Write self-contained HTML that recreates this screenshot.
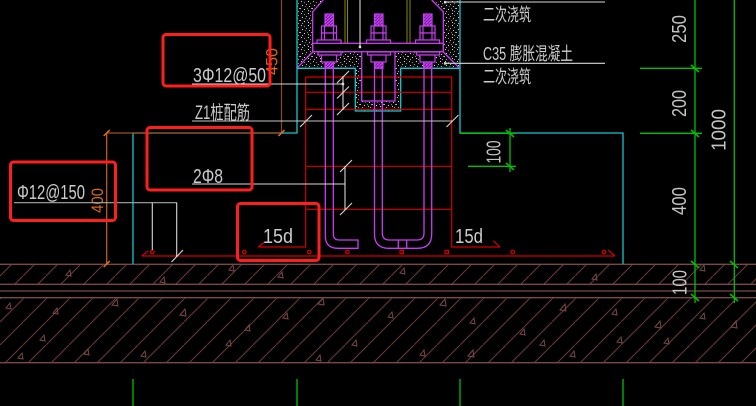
<!DOCTYPE html>
<html><head><meta charset="utf-8">
<style>
html,body{margin:0;padding:0;background:#000;}
svg{display:block;}
text{font-family:"Liberation Sans","Noto Sans CJK SC",sans-serif;fill:#cccccc;}
</style></head><body>
<svg width="756" height="406" viewBox="0 0 756 406" xmlns="http://www.w3.org/2000/svg">
<defs>
<pattern id="hatch" patternUnits="userSpaceOnUse" width="23" height="23">
<line x1="-1" y1="24" x2="24" y2="-1" stroke="#6e3a3a" stroke-width="1"/>
</pattern>
<pattern id="mh" patternUnits="userSpaceOnUse" width="3" height="3">
<rect width="3" height="3" fill="#7a1aa0"/>
<line x1="0" y1="3" x2="3" y2="0" stroke="#d050ff" stroke-width="1"/>
</pattern>
<pattern id="spk" patternUnits="userSpaceOnUse" width="12" height="12">
<rect width="12" height="12" fill="#0a0a0a"/>
<rect x="1" y="1" width="1" height="1" fill="#c8c8c8"/>
<rect x="4" y="2" width="1" height="1" fill="#8a8a8a"/>
<rect x="8" y="1" width="1" height="1" fill="#d8d8d8"/>
<rect x="10" y="3" width="1" height="1" fill="#888"/>
<rect x="2" y="5" width="1" height="1" fill="#d0d0d0"/>
<rect x="6" y="4" width="1" height="1" fill="#aaa"/>
<rect x="9" y="6" width="1" height="1" fill="#c0c0c0"/>
<rect x="11" y="8" width="1" height="1" fill="#999"/>
<rect x="0" y="8" width="1" height="1" fill="#bbb"/>
<rect x="4" y="9" width="1" height="1" fill="#e0e0e0"/>
<rect x="7" y="8" width="1" height="1" fill="#777"/>
<rect x="2" y="11" width="1" height="1" fill="#aaa"/>
<rect x="8" y="10" width="1" height="1" fill="#ccc"/>
<rect x="5" y="6" width="1" height="1" fill="#666"/>
<rect x="10" y="11" width="1" height="1" fill="#9a9a9a"/>
</pattern>
</defs>
<rect width="756" height="406" fill="#000"/>

<!-- ground hatch band -->
<rect x="0" y="264" width="756" height="20" fill="url(#hatch)"/>
<rect x="0" y="298" width="756" height="65" fill="url(#hatch)"/>
<g stroke="#7a4848" stroke-width="1.3">
<line x1="0" y1="264.3" x2="756" y2="264.3"/>
<line x1="0" y1="284.3" x2="756" y2="284.3"/>
<line x1="0" y1="291" x2="756" y2="291"/>
<line x1="0" y1="297.7" x2="756" y2="297.7"/>
<line x1="0" y1="362.7" x2="756" y2="362.7"/>
</g>
<g fill="none" stroke="#7a4848" stroke-width="1">
<path d="M66,275 l4,-5 l1,6 z"/><path d="M160,282 l4,-5 l1,6 z"/><path d="M229,270 l4,-5 l1,6 z"/>
<path d="M278,277 l4,-5 l1,6 z"/><path d="M400,273 l4,-5 l1,6 z"/><path d="M592,279 l4,-5 l1,6 z"/>
<path d="M700,270 l4,-5 l1,6 z"/><path d="M6,308 l4,-5 l1,6 z"/><path d="M53,313 l4,-5 l1,6 z"/>
<path d="M112,305 l5,-6 l1,7 z"/><path d="M180,315 l5,-6 l1,7 z"/><path d="M245,330 l4,-5 l1,6 z"/>
<path d="M283,318 l4,-5 l1,6 z"/><path d="M318,304 l5,-6 l1,7 z"/><path d="M388,317 l4,-5 l1,6 z"/>
<path d="M440,305 l5,-6 l1,7 z"/><path d="M470,323 l4,-5 l1,6 z"/><path d="M520,334 l4,-5 l1,6 z"/>
<path d="M560,310 l5,-6 l1,7 z"/><path d="M612,314 l4,-5 l1,6 z"/><path d="M655,327 l5,-6 l1,7 z"/>
<path d="M700,318 l4,-5 l1,6 z"/><path d="M731,327 l5,-6 l1,7 z"/><path d="M18,358 l4,-5 l1,6 z"/>
<path d="M84,354 l4,-5 l1,6 z"/><path d="M141,356 l4,-5 l1,6 z"/><path d="M226,345 l4,-5 l1,6 z"/>
<path d="M316,360 l4,-5 l1,6 z"/><path d="M420,355 l4,-5 l1,6 z"/><path d="M468,356 l5,-6 l1,7 z"/>
<path d="M570,356 l4,-5 l1,6 z"/><path d="M617,342 l4,-5 l1,6 z"/><path d="M664,343 l4,-5 l1,6 z"/>
<path d="M40,340 l4,-5 l1,6 z"/><path d="M352,345 l4,-5 l1,6 z"/><path d="M540,345 l4,-5 l1,6 z"/>
</g>

<!-- speckled concrete -->
<rect x="297" y="0" width="163" height="68.3" fill="url(#spk)"/>
<rect x="355.3" y="68" width="45.4" height="43" fill="url(#spk)"/>
<polygon points="312.3,0 443.3,0 443.3,52 312.3,52" fill="url(#spk)"/>
<polygon points="323.3,0 431.7,0 443.3,11.7 443.3,52 312.7,52 312.7,11.7" fill="#000"/>
<rect x="361.7" y="52" width="33.3" height="49" fill="#000"/>

<!-- cyan outline -->
<g stroke="#19c6d0" stroke-width="1.3" fill="none">
<path d="M297,0 V133 H133 V264"/>
<path d="M460,0 V133 H623 V264"/>
<path d="M297,68.3 H355.3 V111 H400.7 V68.3 H460"/>
</g>

<!-- orange/brown dims -->
<g stroke-width="1.2" fill="none">
<line x1="106.7" y1="133" x2="106.7" y2="264" stroke="#c8641e"/>
<line x1="106.7" y1="133" x2="282" y2="133" stroke="#a0501e"/>
<line x1="281.5" y1="0" x2="281.5" y2="133" stroke="#8c4a1e"/>
<g stroke="#e07020" stroke-width="1.5">
<line x1="103.7" y1="136" x2="109.7" y2="130"/>
<line x1="103.7" y1="267" x2="109.7" y2="261"/>
<line x1="278.5" y1="136" x2="284.5" y2="130"/>
</g>
</g>
<text transform="translate(97,200.5) rotate(-90)" y="6" text-anchor="middle" font-size="17" textLength="25" lengthAdjust="spacingAndGlyphs" style="fill:#d2691e">400</text>
<text transform="translate(271.5,61.5) rotate(-90)" y="6" text-anchor="middle" font-size="17" textLength="27" lengthAdjust="spacingAndGlyphs" style="fill:#d2691e">450</text>

<!-- red rebar lines -->
<g stroke="#d40000" stroke-width="1.2" fill="none">
<path d="M305.7,77 H451.7 V247 H500"/>
<path d="M305.7,77 V247 H258.3"/>
<line x1="305.7" y1="92.3" x2="451.7" y2="92.3"/>
<line x1="305.7" y1="109.3" x2="451.7" y2="109.3"/>
<line x1="305.7" y1="166.3" x2="451.7" y2="166.3"/>
<line x1="305.7" y1="209.3" x2="451.7" y2="209.3"/>
<line x1="258.3" y1="247" x2="265" y2="241.7"/>
<line x1="493.3" y1="240.7" x2="500" y2="247"/>
<line x1="141.7" y1="256" x2="615" y2="256"/>
<line x1="141.7" y1="256" x2="148.3" y2="251"/>
<line x1="608.3" y1="250" x2="615" y2="256"/>
<circle cx="152.3" cy="252" r="1.8"/><circle cx="244.3" cy="252" r="1.8"/>
<circle cx="309.3" cy="252" r="1.8"/><circle cx="347.3" cy="252" r="1.8"/>
<rect x="400" y="250.3" width="3.4" height="3.4"/><rect x="445" y="250.3" width="3.4" height="3.4"/>
<circle cx="512.7" cy="252" r="1.8"/><circle cx="604" cy="252" r="1.8"/>
</g>

<!-- olive lines -->
<g stroke="#8a8a00" stroke-width="1">
<line x1="345" y1="0" x2="345" y2="43"/><line x1="347.5" y1="0" x2="347.5" y2="43"/>
<line x1="407" y1="0" x2="407" y2="43"/><line x1="410" y1="0" x2="410" y2="43"/>
</g>

<!-- magenta steel -->
<g stroke="#c83cf0" stroke-width="1.3" fill="none">
<path d="M323.3,0 L312.7,11.7 V52 L297.3,67.7"/>
<path d="M431.7,0 L443.3,11.7 V52 L459,67.7"/>
<rect x="312.7" y="43.3" width="130.6" height="8.4"/>
<path d="M361.7,52 V101 H395 V52"/>
<!-- left J bar -->
<path d="M325.3,68 V236 Q325.3,248.3 337.8,248.3 H358 V240 H339.3 Q333.3,240 333.3,234 V68"/>
<!-- right U bar -->
<path d="M374.5,68 V234 Q374.5,248.3 389,248.3 H417.4 Q431.7,248.3 431.7,234 V68"/>
<path d="M382.3,68 V233 Q382.3,240 389.3,240 H417 Q424,240 424,233 V68"/>
<line x1="398.3" y1="240" x2="398.3" y2="248.3"/>
<line x1="406.7" y1="240" x2="406.7" y2="248.3"/>
</g>
<g stroke="#c83cf0" stroke-width="1.2">
<g id="b1">
<rect x="325" y="14" width="8.5" height="12" fill="url(#mh)"/>
<rect x="321.5" y="26" width="15" height="7" fill="#000"/>
<rect x="321.5" y="33" width="15" height="7" fill="#000"/>
<line x1="324.5" y1="26" x2="324.5" y2="40"/>
<line x1="333.5" y1="26" x2="333.5" y2="40"/>
<rect x="317" y="40" width="24" height="3.3" fill="#000"/>
<rect x="318" y="52" width="23" height="3" fill="#000"/>
<rect x="321.5" y="55" width="15" height="7" fill="#000"/>
<rect x="325" y="62" width="8.5" height="6.3" fill="url(#mh)"/>
</g>
<use href="#b1" transform="translate(49.5,0)"/>
<use href="#b1" transform="translate(98.5,0)"/>
</g>

<!-- white leaders -->
<g stroke="#d8d8d8" stroke-width="1.1" fill="none">
<line x1="360" y1="0" x2="360" y2="47"/>
<line x1="445" y1="2" x2="605" y2="2"/>
<line x1="445" y1="63.3" x2="605" y2="63.3"/>
<line x1="192" y1="84" x2="343" y2="84"/>
<line x1="343" y1="76" x2="343" y2="110"/>
<line x1="337" y1="83" x2="349" y2="71"/>
<line x1="337" y1="98.5" x2="349" y2="86.5"/>
<line x1="337" y1="115" x2="349" y2="103"/>
<line x1="192" y1="121" x2="452" y2="121" stroke="#c4c4c4"/>
<line x1="300" y1="127" x2="312" y2="115"/>
<line x1="446.5" y1="127" x2="458.5" y2="115"/>
<line x1="192" y1="184" x2="345" y2="184"/>
<line x1="345" y1="166" x2="345" y2="210"/>
<line x1="340" y1="172" x2="352" y2="160"/>
<line x1="340" y1="215" x2="352" y2="203"/>
<line x1="14" y1="202.7" x2="177" y2="202.7" stroke="#a8a8a8"/>
<line x1="152.3" y1="202.7" x2="152.3" y2="250"/>
<line x1="176.7" y1="202.7" x2="176.7" y2="257"/>
<line x1="171.5" y1="262" x2="183" y2="250"/>
</g>
<g fill="#e0e0e0">
<rect x="358.8" y="45.8" width="2.4" height="2.4"/>
<rect x="444" y="1" width="2.4" height="2.4"/>
<rect x="444" y="62.2" width="2.4" height="2.4"/>
<rect x="341.8" y="82.8" width="2.4" height="2.4"/>
</g>

<!-- labels -->
<text x="193" y="82" font-size="20" textLength="73" lengthAdjust="spacingAndGlyphs">3Φ12@50</text>
<text x="195" y="119" font-size="19" textLength="55" lengthAdjust="spacingAndGlyphs">Z1桩配筋</text>
<text x="193" y="183" font-size="20" textLength="30" lengthAdjust="spacingAndGlyphs">2Φ8</text>
<text x="17" y="199" font-size="20" textLength="68" lengthAdjust="spacingAndGlyphs">Φ12@150</text>
<text x="263" y="243" font-size="20" textLength="30" lengthAdjust="spacingAndGlyphs">15d</text>
<text x="455" y="243" font-size="20" textLength="28" lengthAdjust="spacingAndGlyphs">15d</text>
<text x="483" y="21" font-size="18" textLength="48" lengthAdjust="spacingAndGlyphs">二次浇筑</text>
<text x="483" y="60" font-size="18" textLength="90" lengthAdjust="spacingAndGlyphs">C35 膨胀混凝土</text>
<text x="483" y="83" font-size="18" textLength="48" lengthAdjust="spacingAndGlyphs">二次浇筑</text>

<!-- green dims -->
<g stroke="#00c000" stroke-width="1.3" fill="none">
<line x1="695" y1="0" x2="695" y2="303"/>
<line x1="734.3" y1="0" x2="734.3" y2="303"/>
<line x1="640" y1="68.3" x2="702" y2="68.3"/>
<line x1="640" y1="133.3" x2="702" y2="133.3"/>
<line x1="460" y1="133.3" x2="516" y2="133.3"/>
<line x1="468" y1="166.3" x2="516" y2="166.3"/>
<line x1="510" y1="128" x2="510" y2="172"/>
<line x1="133" y1="379" x2="133" y2="406"/>
<line x1="297" y1="379" x2="297" y2="406"/>
<line x1="460" y1="379" x2="460" y2="406"/>
<line x1="623" y1="379" x2="623" y2="406"/>
<g stroke-width="1.5">
<line x1="691" y1="65" x2="699" y2="72"/>
<line x1="691" y1="130" x2="699" y2="137"/>
<line x1="691" y1="261" x2="699" y2="268"/>
<line x1="691" y1="294" x2="699" y2="301"/>
<line x1="730" y1="261" x2="738" y2="268"/>
<line x1="730" y1="294" x2="738" y2="301"/>
<line x1="506" y1="130" x2="514" y2="137"/>
<line x1="506" y1="163" x2="514" y2="170"/>
</g>
</g>
<g font-size="20">
<text transform="translate(679,29) rotate(-90)" y="7" text-anchor="middle" textLength="28" lengthAdjust="spacingAndGlyphs" style="fill:#c4c4c4">250</text>
<text transform="translate(679,103.5) rotate(-90)" y="7" text-anchor="middle" textLength="27" lengthAdjust="spacingAndGlyphs" style="fill:#c4c4c4">200</text>
<text transform="translate(679,201) rotate(-90)" y="7" text-anchor="middle" textLength="28" lengthAdjust="spacingAndGlyphs" style="fill:#c4c4c4">400</text>
<text transform="translate(679.5,282.5) rotate(-90)" y="7" text-anchor="middle" textLength="25" lengthAdjust="spacingAndGlyphs" style="fill:#c4c4c4">100</text>
<text transform="translate(718.5,130) rotate(-90)" y="7" text-anchor="middle" textLength="42" lengthAdjust="spacingAndGlyphs" style="fill:#c4c4c4">1000</text>
<text transform="translate(493.5,152) rotate(-90)" y="7" text-anchor="middle" textLength="23" lengthAdjust="spacingAndGlyphs" style="fill:#c4c4c4">100</text>
</g>

<!-- red highlight boxes -->
<g stroke="#ff1e1e" stroke-width="3" fill="none">
<rect x="163" y="34.5" width="107" height="51.5" rx="3"/>
<rect x="147" y="127.5" width="105" height="62.5" rx="3"/>
<rect x="10.5" y="162" width="105" height="58.5" rx="3"/>
<rect x="237.5" y="203.5" width="81.5" height="57" rx="3"/>
</g>
</svg>
</body></html>
